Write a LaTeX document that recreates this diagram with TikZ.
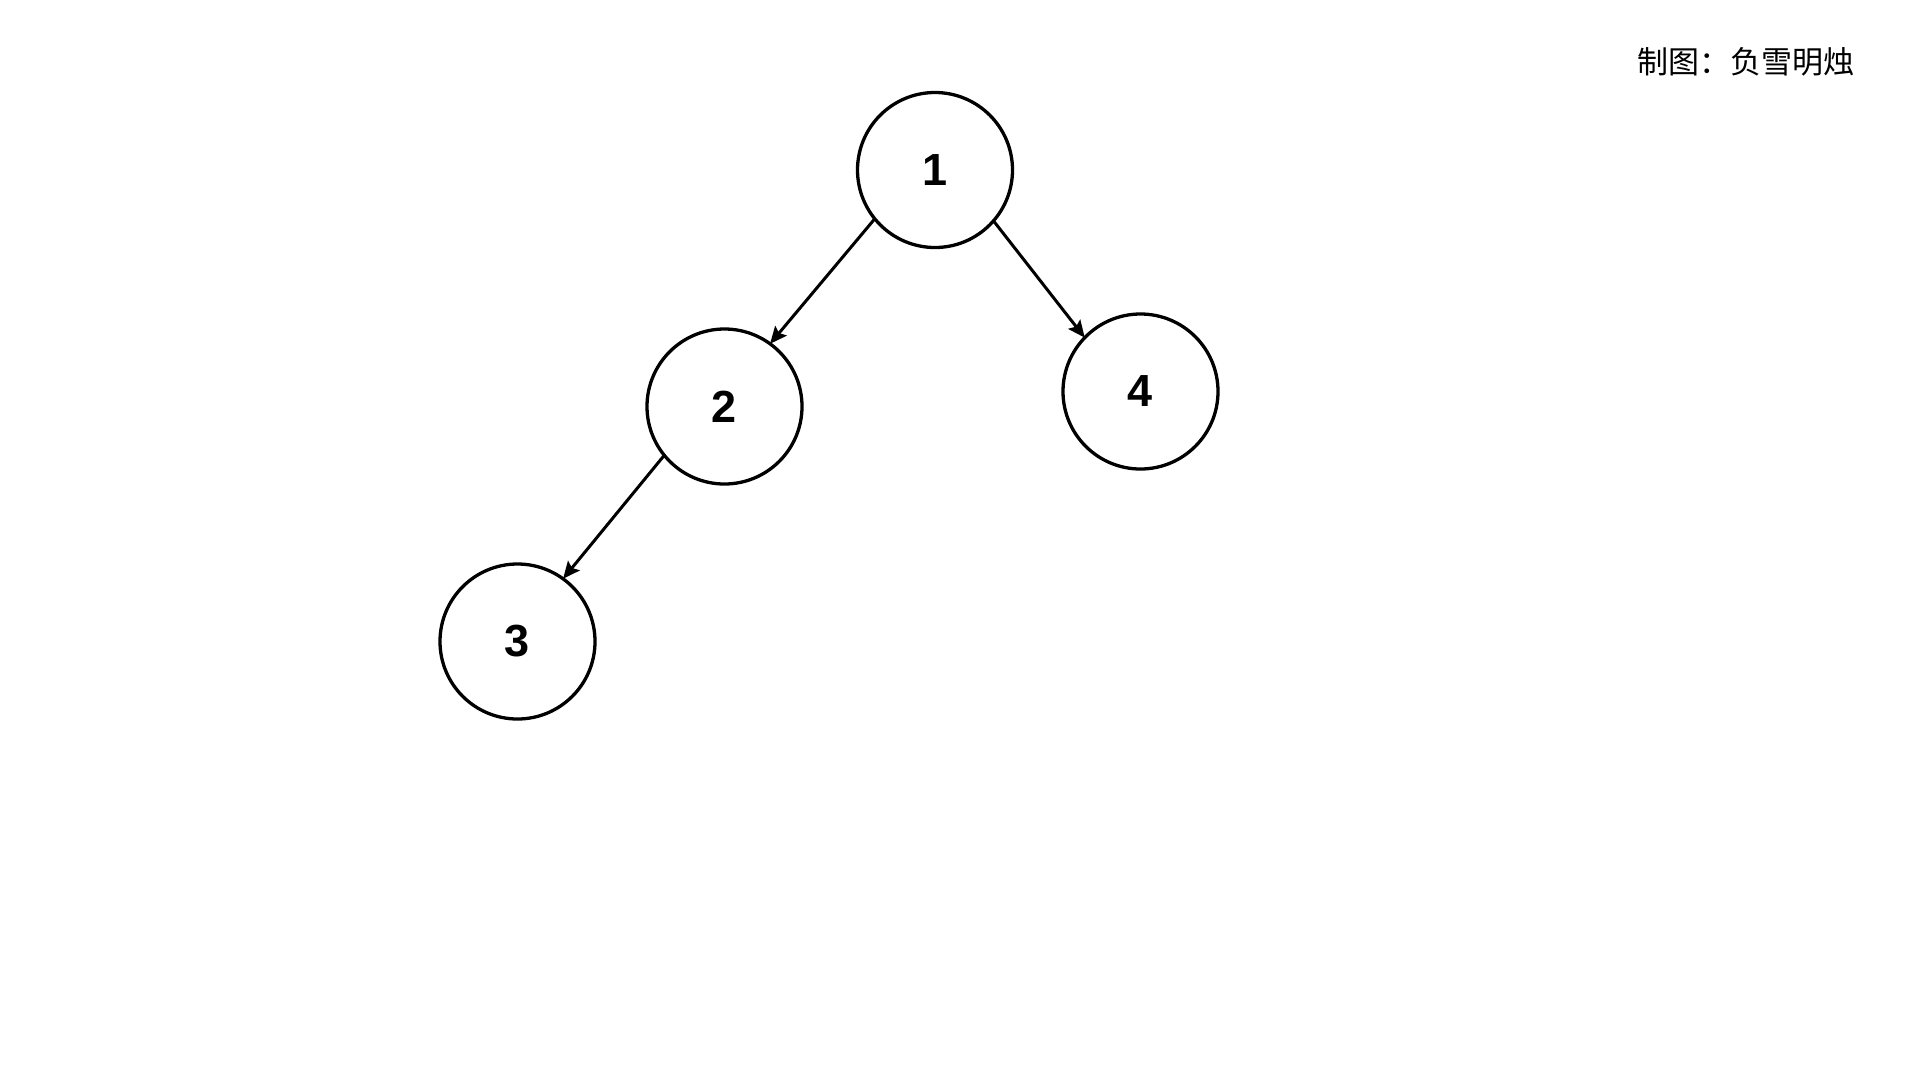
\documentclass[tikz,border=0pt]{standalone}
\usepackage{fontspec}
\setsansfont{Liberation Sans}
\newfontfamily\cjk{Noto Sans CJK SC}
\usetikzlibrary{arrows.meta}
\begin{document}
\begin{tikzpicture}[x=1pt,y=-1pt,
  treenode/.style={circle,draw=black,line width=3.3pt,minimum size=155pt,inner sep=0pt,outer sep=0pt,
    font=\fontsize{45}{50}\selectfont\sffamily\bfseries},
  link/.style={line width=3pt,-{Stealth[length=17pt,width=15pt,inset=3pt]}}]
\useasboundingbox[fill=white] (0,0) rectangle (1920,1080);
\node[treenode] (n1) at (935,170) {1};
\node[treenode] (n2) at (724.5,406.5) {2};
\node[treenode] (n4) at (1140.5,391.5) {4};
\node[treenode] (n3) at (517.5,641.5) {3};
\draw[link] (n1.219) -- (n2.54);
\draw[link] (n1.-41.5) -- (n4.136);
\draw[link] (n2.219) -- (n3.54);
\node[font=\fontsize{31}{36}\selectfont\cjk,inner sep=0pt] (credit) at (1746,62) {制图：负雪明烛};
\end{tikzpicture}
\end{document}
